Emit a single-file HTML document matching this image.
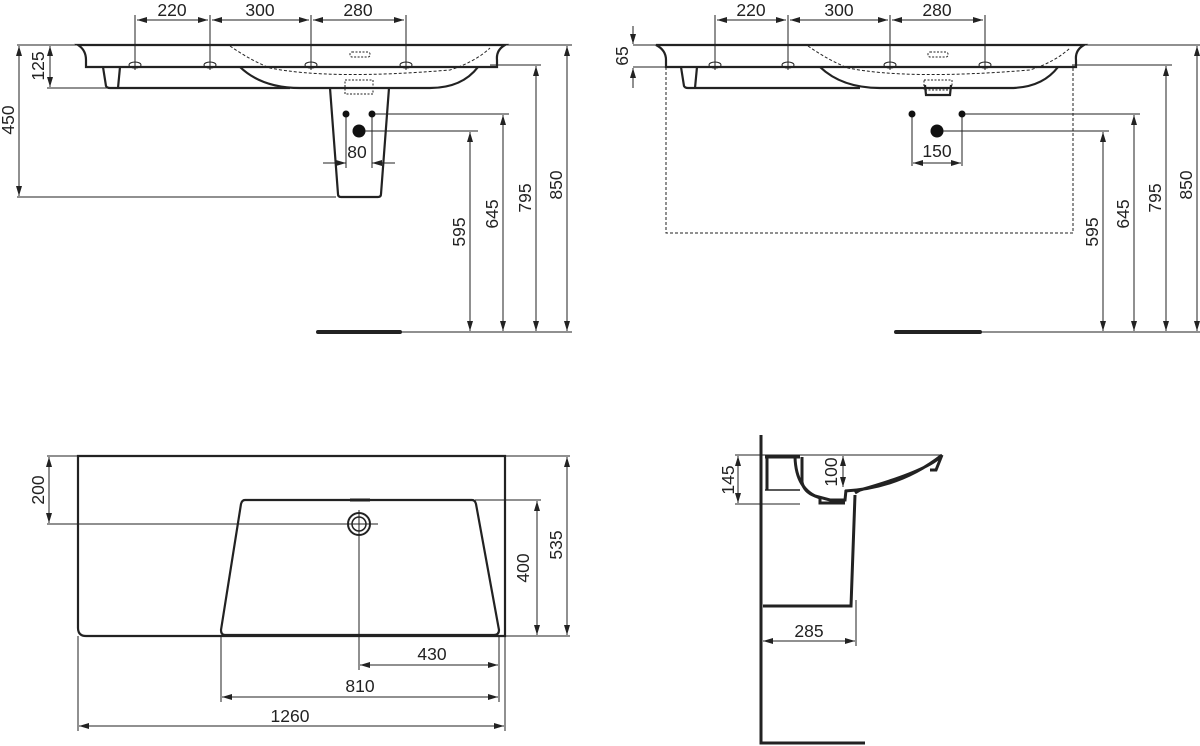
<!DOCTYPE html>
<html><head><meta charset="utf-8"><style>
html,body{margin:0;padding:0;background:#fff;}
svg{display:block;}
text{font-family:"Liberation Sans",Arial,sans-serif;font-size:17.5px;fill:#222;}
</style></head><body>
<svg width="1200" height="746" viewBox="0 0 1200 746" xmlns="http://www.w3.org/2000/svg">
<defs>
<marker id="a" viewBox="0 0 10 6" refX="10" refY="3" markerWidth="10" markerHeight="6" orient="auto-start-reverse" markerUnits="userSpaceOnUse"><path d="M0,0 L10,3 L0,6 z" fill="#222"/></marker>
</defs>
<g stroke="#222" stroke-width="1" fill="none">
<!-- ===== TOP LEFT ===== -->
<line x1="17" y1="45" x2="572" y2="45"/>
<g stroke-width="2.2">
<path d="M78,45 L505,45 Q496,50 497,60 L497,67 L86,67 L86,60 Q86,50 78,45 Z"/>
<path d="M103,67 L106,86 Q107,88 110,88 L290,88"/>
<path d="M120,67 L118,88"/>
<path d="M240,67 Q262,88 300,88 L430,88 Q462,88 478,67"/>
<path d="M330,88 L338,194 Q338,197 341,197 L378,197 Q381,197 381,194 L389,88"/>
</g>
<path d="M230,46 Q250,60 270,68 Q330,80 450,70 Q475,62 490,48" stroke-dasharray="3,2"/>
<rect x="350" y="52" width="20" height="5" rx="2" stroke-dasharray="2,1.5"/>
<rect x="345" y="80" width="28" height="14" stroke-dasharray="2,1.5"/>
<g>
<ellipse cx="135" cy="65" rx="6" ry="3"/><ellipse cx="210" cy="65" rx="6" ry="3"/>
<ellipse cx="311" cy="65" rx="6" ry="3"/><ellipse cx="406" cy="65" rx="6" ry="3"/>
</g>
<line x1="135" y1="15" x2="135" y2="70"/><line x1="210" y1="15" x2="210" y2="70"/>
<line x1="311" y1="15" x2="311" y2="70"/><line x1="406" y1="15" x2="406" y2="70"/>
<line x1="137" y1="20" x2="208" y2="20" marker-start="url(#a)" marker-end="url(#a)"/>
<line x1="212" y1="20" x2="309" y2="20" marker-start="url(#a)" marker-end="url(#a)"/>
<line x1="313" y1="20" x2="404" y2="20" marker-start="url(#a)" marker-end="url(#a)"/>
<line x1="47" y1="88" x2="108" y2="88"/>
<line x1="50" y1="46" x2="50" y2="87" marker-start="url(#a)" marker-end="url(#a)"/>
<line x1="17" y1="197" x2="336" y2="197"/>
<line x1="19" y1="46" x2="19" y2="196" marker-start="url(#a)" marker-end="url(#a)"/>
<line x1="346" y1="114" x2="346" y2="168"/><line x1="372" y1="114" x2="372" y2="168"/>
<line x1="372" y1="114" x2="509" y2="114"/><line x1="359" y1="131" x2="478" y2="131"/>
<line x1="323" y1="163" x2="346" y2="163" marker-end="url(#a)"/>
<line x1="395" y1="163" x2="372" y2="163" marker-end="url(#a)"/>
<line x1="490" y1="65" x2="541" y2="65"/>
<line x1="470" y1="132" x2="470" y2="331" marker-start="url(#a)" marker-end="url(#a)"/>
<line x1="503" y1="115" x2="503" y2="331" marker-start="url(#a)" marker-end="url(#a)"/>
<line x1="536" y1="66" x2="536" y2="331" marker-start="url(#a)" marker-end="url(#a)"/>
<line x1="567" y1="46" x2="567" y2="331" marker-start="url(#a)" marker-end="url(#a)"/>
<line x1="400" y1="332" x2="572" y2="332"/>
<line x1="318" y1="332" x2="400" y2="332" stroke-width="4" stroke-linecap="round"/>

<!-- ===== TOP RIGHT ===== -->
<line x1="633" y1="45" x2="1200" y2="45"/>
<line x1="633" y1="67" x2="666" y2="67"/>
<g stroke-width="2.2">
<path d="M656,45 L1084,45 Q1075,50 1076,60 L1076,67 L666,67 L666,60 Q666,50 656,45 Z"/>
<path d="M681,67 L684,86 Q685,88 688,88 L860,88"/>
<path d="M697,67 L695,88"/>
<path d="M820,67 Q842,88 880,88 L1010,88 Q1042,88 1058,67"/>
<path d="M925,85 L926,95 L950,95 L951,85"/>
</g>
<path d="M808,46 Q828,60 848,68 Q908,80 1030,70 Q1055,62 1070,48" stroke-dasharray="3,2"/>
<rect x="928" y="52" width="20" height="5" rx="2" stroke-dasharray="2,1.5"/>
<rect x="924" y="80" width="28" height="10" stroke-dasharray="2,1.5"/>
<path d="M666,67 L666,233 L1073,233 L1073,67" stroke-dasharray="3,2"/>
<ellipse cx="715" cy="65" rx="6" ry="3"/><ellipse cx="788" cy="65" rx="6" ry="3"/>
<ellipse cx="890" cy="65" rx="6" ry="3"/><ellipse cx="985" cy="65" rx="6" ry="3"/>
<line x1="715" y1="15" x2="715" y2="70"/><line x1="788" y1="15" x2="788" y2="70"/>
<line x1="890" y1="15" x2="890" y2="70"/><line x1="985" y1="15" x2="985" y2="70"/>
<line x1="717" y1="20" x2="786" y2="20" marker-start="url(#a)" marker-end="url(#a)"/>
<line x1="790" y1="20" x2="888" y2="20" marker-start="url(#a)" marker-end="url(#a)"/>
<line x1="892" y1="20" x2="983" y2="20" marker-start="url(#a)" marker-end="url(#a)"/>
<line x1="633" y1="26" x2="633" y2="44" marker-end="url(#a)"/>
<line x1="633" y1="88" x2="633" y2="68" marker-end="url(#a)"/>
<line x1="912" y1="114" x2="912" y2="166"/><line x1="962" y1="114" x2="962" y2="166"/>
<line x1="962" y1="114" x2="1140" y2="114"/><line x1="937" y1="131" x2="1109" y2="131"/>
<line x1="913" y1="163" x2="961" y2="163" marker-start="url(#a)" marker-end="url(#a)"/>
<line x1="1072" y1="65" x2="1172" y2="65"/>
<line x1="1103" y1="132" x2="1103" y2="331" marker-start="url(#a)" marker-end="url(#a)"/>
<line x1="1134" y1="115" x2="1134" y2="331" marker-start="url(#a)" marker-end="url(#a)"/>
<line x1="1166" y1="66" x2="1166" y2="331" marker-start="url(#a)" marker-end="url(#a)"/>
<line x1="1197" y1="46" x2="1197" y2="331" marker-start="url(#a)" marker-end="url(#a)"/>
<line x1="980" y1="332" x2="1200" y2="332"/>
<line x1="896" y1="332" x2="980" y2="332" stroke-width="4" stroke-linecap="round"/>

<!-- ===== BOTTOM LEFT ===== -->
<line x1="47" y1="456" x2="570" y2="456"/>
<path d="M78,456 L505,456 L505,636 L86,636 Q78,636 78,628 Z" stroke-width="2.2"/>
<path d="M245,500 L472,500 Q475,500 476,504 L499,630 Q499,635 494,635 L225,635 Q221,635 221,630 L241,504 Q242,500 245,500 Z" stroke-width="2.2"/>
<line x1="350" y1="500" x2="370" y2="500" stroke-width="3"/>
<circle cx="359" cy="524" r="11" stroke-width="2"/><circle cx="359" cy="524" r="7" stroke-width="1.5"/>
<line x1="47" y1="524" x2="378" y2="524"/>
<line x1="359" y1="510" x2="359" y2="670"/>
<line x1="49" y1="457" x2="49" y2="523" marker-start="url(#a)" marker-end="url(#a)"/>
<line x1="475" y1="500" x2="541" y2="500"/><line x1="505" y1="636" x2="570" y2="636"/>
<line x1="537" y1="501" x2="537" y2="635" marker-start="url(#a)" marker-end="url(#a)"/>
<line x1="567" y1="457" x2="567" y2="635" marker-start="url(#a)" marker-end="url(#a)"/>
<line x1="78" y1="636" x2="78" y2="731"/><line x1="505" y1="636" x2="505" y2="731"/>
<line x1="221" y1="636" x2="221" y2="702"/><line x1="499" y1="636" x2="499" y2="702"/>
<line x1="360" y1="665" x2="498" y2="665" marker-start="url(#a)" marker-end="url(#a)"/>
<line x1="222" y1="697" x2="498" y2="697" marker-start="url(#a)" marker-end="url(#a)"/>
<line x1="79" y1="726" x2="504" y2="726" marker-start="url(#a)" marker-end="url(#a)"/>

<!-- ===== BOTTOM RIGHT ===== -->
<line x1="735" y1="455" x2="942" y2="455"/>
<line x1="735" y1="504" x2="800" y2="504"/>
<line x1="738" y1="456" x2="738" y2="503" marker-start="url(#a)" marker-end="url(#a)"/>
<line x1="843" y1="456" x2="843" y2="487" marker-start="url(#a)" marker-end="url(#a)"/>
<g stroke-width="3">
<path d="M761,435 L761,743 L865,743"/>
<path d="M763,606 L851,606 L855,495"/>
<path d="M765,457 L800,457"/>
<path d="M767,457 L767,490"/>
<path d="M802,457 L802,482 Q804,492 815,496 L830,500 L845,500 L846,490"/>
<path d="M795,457 Q796,490 820,498 L820,503 L845,503"/>
<path d="M845,491 Q900,488 942,455 Q930,470 860,490 L855,493"/>
<path d="M942,455 L936,470 L930,470"/>
</g>
<line x1="765" y1="490" x2="800" y2="490" stroke-width="1.5"/>
<line x1="763" y1="641" x2="855" y2="641" marker-start="url(#a)" marker-end="url(#a)"/>
<line x1="856" y1="600" x2="856" y2="646"/>
</g>
<g fill="#111">
<circle cx="346" cy="114" r="3.5"/><circle cx="372" cy="114" r="3.5"/><circle cx="359" cy="131" r="6.5"/>
<circle cx="912" cy="114" r="3.5"/><circle cx="962" cy="114" r="3.5"/><circle cx="937" cy="131" r="6.5"/>
</g>
<text x="172" y="16" text-anchor="middle">220</text>
<text x="260" y="16" text-anchor="middle">300</text>
<text x="358" y="16" text-anchor="middle">280</text>
<text x="357" y="158" text-anchor="middle">80</text>
<text transform="translate(44,66) rotate(-90)" text-anchor="middle">125</text>
<text transform="translate(14,120) rotate(-90)" text-anchor="middle">450</text>
<text transform="translate(465,232) rotate(-90)" text-anchor="middle">595</text>
<text transform="translate(498,214) rotate(-90)" text-anchor="middle">645</text>
<text transform="translate(531,198) rotate(-90)" text-anchor="middle">795</text>
<text transform="translate(562,185) rotate(-90)" text-anchor="middle">850</text>

<text x="751" y="16" text-anchor="middle">220</text>
<text x="839" y="16" text-anchor="middle">300</text>
<text x="937" y="16" text-anchor="middle">280</text>
<text x="937" y="157" text-anchor="middle">150</text>
<text transform="translate(628,56) rotate(-90)" text-anchor="middle">65</text>
<text transform="translate(1098,232) rotate(-90)" text-anchor="middle">595</text>
<text transform="translate(1129,214) rotate(-90)" text-anchor="middle">645</text>
<text transform="translate(1161,198) rotate(-90)" text-anchor="middle">795</text>
<text transform="translate(1192,185) rotate(-90)" text-anchor="middle">850</text>

<text transform="translate(44,490) rotate(-90)" text-anchor="middle">200</text>
<text transform="translate(529,568) rotate(-90)" text-anchor="middle">400</text>
<text transform="translate(562,545) rotate(-90)" text-anchor="middle">535</text>
<text x="432" y="660" text-anchor="middle">430</text>
<text x="360" y="692" text-anchor="middle">810</text>
<text x="290" y="722" text-anchor="middle">1260</text>

<text transform="translate(734,480) rotate(-90)" text-anchor="middle">145</text>
<text transform="translate(837,472) rotate(-90)" text-anchor="middle">100</text>
<text x="809" y="637" text-anchor="middle">285</text>
</svg>
</body></html>
